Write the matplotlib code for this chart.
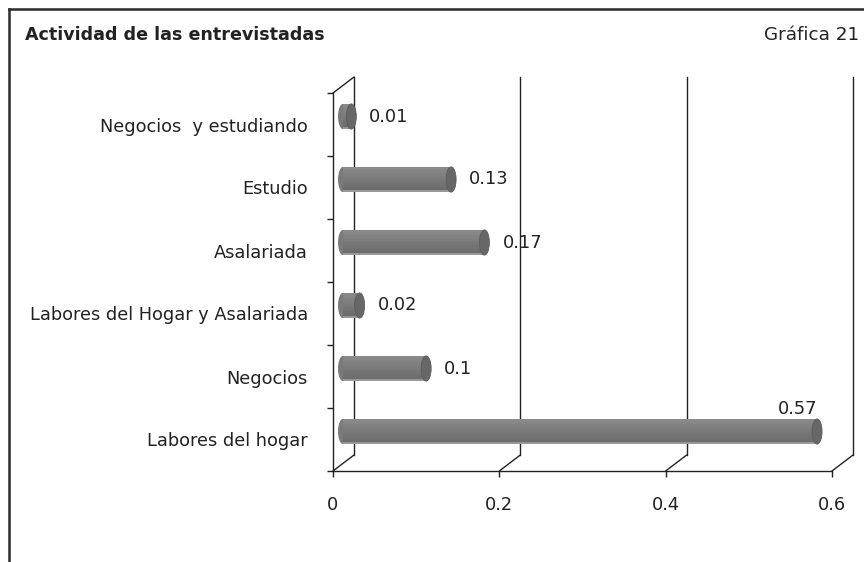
import numpy as np
import matplotlib
matplotlib.use("Agg")
import matplotlib.pyplot as plt
import matplotlib.transforms as mtransforms
from matplotlib.patches import Ellipse
from matplotlib.lines import Line2D

# data, bottom to top as drawn
categories = ["Labores del hogar", "Negocios", "Labores del Hogar y Asalariada",
              "Asalariada", "Estudio", "Negocios  y estudiando"]
values = [0.57, 0.1, 0.02, 0.17, 0.13, 0.01]
xticks = [0, 0.2, 0.4, 0.6]
title = "Actividad de las entrevistadas"
chart_no = "Gráfica 21"

W, H = 864, 562
plt.rcParams["font.family"] = ["DejaVu Sans"]
txt = "#222222"
fs = 12.8

fig = plt.figure(figsize=(W / 100, H / 100), dpi=100)
fig.patch.set_facecolor("white")
# front plane of the 3d box, in pixels: x 333..832, y 93..471
ax = fig.add_axes([333 / W, (H - 471) / H, 499 / W, 378 / H])
ax.set_xlim(0, 0.6)
ax.set_ylim(-0.5, len(categories) - 0.5)
ax.set_facecolor("none")

# depth offsets (pixels): back wall and the middle where bars sit
back = mtransforms.offset_copy(ax.transData, fig=fig, x=21, y=16, units="dots")
mid = mtransforms.offset_copy(ax.transData, fig=fig, x=10, y=8, units="dots")
ylo, yhi = ax.get_ylim()

# back wall gridlines
for v in xticks:
    ax.plot([v, v], [ylo, yhi], color="#222222", lw=1, transform=back,
            clip_on=False, zorder=1)
# floor / wall diagonals
for v in xticks:
    ax.annotate("", xy=(v, ylo), xytext=(21, 16), textcoords="offset pixels",
                arrowprops=dict(arrowstyle="-", color="#222222", lw=1,
                                shrinkA=0, shrinkB=0), annotation_clip=False)
ax.annotate("", xy=(0, yhi), xytext=(21, 16), textcoords="offset pixels",
            arrowprops=dict(arrowstyle="-", color="#222222", lw=1,
                            shrinkA=0, shrinkB=0), annotation_clip=False)

# cylinder bars
h = 0.4
px_per_unit = 499 / 0.6
ew = 10 / px_per_unit
nstrip = 14
shades = np.linspace(0.54, 0.41, nstrip)
for i, v in enumerate(values):
    ax.add_patch(Ellipse((0, i), ew, h, transform=mid, facecolor="#7a7a7a",
                         edgecolor="none", clip_on=False, zorder=3))
    for k in range(nstrip):
        yk = i + h / 2 - (k + 0.5) * h / nstrip
        c = str(shades[k]) if k < nstrip - 1 else "0.6"
        ax.barh(yk, v, height=h / nstrip, left=0, color=c, linewidth=0,
                antialiased=False, transform=mid, clip_on=False, zorder=4)
    ax.add_patch(Ellipse((v, i), ew, h, transform=mid, facecolor="#676767",
                         edgecolor="#5c5c5c", lw=0.6, clip_on=False, zorder=5))
    lab = f"{v:g}"
    if v > 0.5:
        ax.annotate(lab, xy=(v, i), xycoords=mid, xytext=(0, 23),
                    textcoords="offset pixels", ha="right", va="center",
                    fontsize=fs, color=txt, zorder=6)
    else:
        ax.annotate(lab, xy=(v, i), xycoords=mid, xytext=(18, 0),
                    textcoords="offset pixels", ha="left", va="center",
                    fontsize=fs, color=txt, zorder=6)

# front axes
for s in ["top", "right"]:
    ax.spines[s].set_visible(False)
for s in ["left", "bottom"]:
    ax.spines[s].set_color("#222222")
    ax.spines[s].set_linewidth(1)
    ax.spines[s].set_zorder(2)
ax.set_xticks(xticks)
ax.set_xticklabels([f"{v:g}" for v in xticks])
ax.tick_params(axis="x", length=4, width=1, color="#222222", pad=14,
               labelsize=fs, labelcolor=txt)
ax.set_yticks(np.arange(-0.5, len(categories)))
ax.set_yticklabels([])
ax.tick_params(axis="y", length=4.5, width=1, color="#222222")
ax.set_yticks(np.arange(len(categories)), minor=True)
ax.set_yticklabels(categories, minor=True)
ax.tick_params(axis="y", which="minor", length=0, pad=18, labelsize=fs,
               labelcolor=txt)

# titles and outer frame
fig.text(25 / W, 1 - 35 / H, title, fontsize=12.6, fontweight="bold",
         color=txt, ha="left", va="center")
fig.text(859 / W, 1 - 35 / H, chart_no, fontsize=13.2, color=txt,
         ha="right", va="center")
fig.add_artist(Line2D([9 / W, 9 / W], [0, 1 - 9 / H], color="#2a2a2a", lw=1.8))
fig.add_artist(Line2D([9 / W, 1], [1 - 9 / H, 1 - 9 / H], color="#2a2a2a", lw=1.8))

fig.savefig("out.png", dpi=100)
